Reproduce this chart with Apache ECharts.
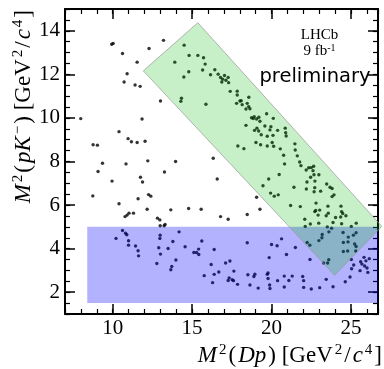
<!DOCTYPE html>
<html>
<head>
<meta charset="utf-8">
<script src="https://cdn.jsdelivr.net/npm/echarts@6/dist/echarts.min.js"></script>
<style>html,body{margin:0;padding:0;background:#fff;}#c{width:384px;height:369px;}</style>
</head>
<body>
<div id="c"></div>
<script>
// ---- data ----
const xRange = [7, 26.7];
const yRange = [1, 15];
const xMajorTicks = [10, 15, 20, 25];
const yMajorTicks = [2, 4, 6, 8, 10, 12, 14];
// blue region: M2(pK) < 5 band
const blueBand = [[8.4, 1.5], [26.7, 1.5], [26.7, 5.0], [8.4, 5.0]];
// green rotated band corners
const greenBand = [[11.93, 12.16], [15.36, 14.37], [26.94, 5.02], [23.97, 2.78]];
// candidates [M2(Dp), M2(pK-)]
const dalitzPoints = [
[9.94,13.38],[10.03,13.42],[10.62,12.96],[11.54,12.56],[12.29,13.19],[13.20,13.56],[10.91,12.03],[10.72,11.65],
[11.41,11.51],[11.73,11.45],[13.01,10.78],[7.99,9.97],[11.85,9.95],[10.40,9.37],[10.97,9.05],[11.18,8.91],
[11.54,8.87],[12.04,8.93],[8.77,8.77],[9.04,8.75],[9.36,7.92],[10.84,7.89],[12.21,8.03],[13.96,8.00],
[9.08,7.54],[13.26,7.52],[11.75,7.28],[11.88,7.06],[9.96,7.10],[8.75,6.42],[10.40,6.06],[11.60,6.29],
[12.26,6.48],[12.40,6.41],[12.17,5.81],[13.66,5.78],[14.78,5.84],[10.78,5.47],[10.91,5.54],[11.03,5.63],
[11.31,5.63],[12.82,5.40],[12.97,5.32],[12.99,5.05],[13.24,5.05],[13.30,5.11],[15.57,5.81],[16.79,5.47],
[17.27,5.35],[18.47,5.57],[19.27,5.81],[19.06,6.36],[19.46,6.89],[16.33,8.15],[16.58,7.20],[15.87,10.63],
[18.39,9.66],[17.88,8.71],[18.26,8.59],[14.33,10.90],[14.29,10.76],[14.48,11.88],[14.79,12.12],[13.91,12.56],
[14.50,13.34],[14.81,12.87],[15.36,12.87],[15.72,12.76],[15.66,12.20],[15.82,12.47],[16.16,11.98],[16.43,12.21],
[16.64,12.01],[16.79,11.86],[16.92,11.78],[16.87,11.65],[17.04,11.95],[17.13,11.73],[17.27,11.86],[17.30,11.62],
[17.40,11.22],[17.84,11.23],[17.84,11.05],[18.01,10.78],[17.80,10.67],[18.09,10.79],[18.15,10.61],[18.47,10.67],
[18.57,10.95],[18.56,10.52],[18.64,10.42],[18.39,10.41],[18.74,10.01],[18.91,10.06],[18.85,9.97],[19.06,9.95],
[19.20,10.03],[19.69,10.19],[20.11,9.98],[19.27,9.85],[19.90,9.45],[19.96,9.60],[19.58,9.63],[19.08,9.53],
[18.93,9.43],[19.19,9.40],[19.35,9.23],[19.73,9.16],[20.09,9.20],[20.38,9.43],[20.86,9.53],[20.92,9.17],
[20.89,9.32],[19.02,8.87],[19.31,8.77],[19.73,8.71],[20.04,8.87],[20.13,8.70],[20.55,8.58],[20.76,8.29],
[20.82,7.89],[21.47,8.81],[21.49,8.53],[21.62,8.26],[21.77,7.98],[21.85,7.81],[22.18,7.61],[22.34,7.71],
[22.50,7.72],[22.65,7.78],[22.61,7.58],[22.46,7.28],[22.67,7.39],[22.98,7.39],[22.73,7.10],[22.23,7.06],
[20.48,7.40],[23.47,6.97],[23.68,6.82],[23.81,6.76],[19.82,7.20],[19.94,6.55],[20.17,6.41],[20.42,6.47],
[21.41,6.82],[21.20,5.98],[21.81,5.93],[22.19,6.74],[22.72,6.80],[22.68,6.61],[23.93,6.47],[23.81,6.39],
[22.80,6.09],[22.78,5.75],[22.72,5.70],[23.03,5.77],[22.93,5.54],[23.55,5.95],[23.57,5.63],[23.44,5.51],
[24.37,5.95],[24.41,5.70],[24.48,5.61],[24.35,5.45],[24.41,5.14],[23.87,5.20],[22.44,5.13],[22.09,5.35],
[22.97,5.17],[25.33,5.17],[23.09,6.64],[24.68,5.51],[24.03,5.43],[25.02,5.02],[22.12,5.02],[23.51,5.00],
[23.78,4.94],[25.32,4.73],
[10.62,4.83],[10.81,4.71],[10.89,4.64],[10.21,4.47],[11.00,4.36],[11.00,4.16],[11.44,4.12],[11.60,3.90],
[11.63,3.67],[12.99,4.62],[12.97,4.47],[12.90,4.04],[13.01,3.75],[14.18,4.77],[13.79,4.33],[13.49,4.01],
[14.56,4.09],[12.78,3.32],[13.98,3.48],[13.72,3.18],[13.66,3.03],[15.11,3.82],[15.28,3.82],[15.41,3.98],
[15.42,3.73],[15.61,4.35],[16.39,3.96],[18.47,4.27],[20.00,4.19],[20.35,4.13],[20.63,4.45],[20.94,3.73],
[19.85,3.59],[22.42,3.50],[23.28,3.34],[23.60,3.49],[23.53,3.34],[25.02,3.50],[25.61,3.40],[25.69,3.29],
[25.86,3.20],[26.15,3.54],[25.94,3.44],[25.17,3.25],[25.04,3.08],[25.57,2.99],[24.94,2.70],[24.64,2.48],
[26.01,3.11],[16.20,3.27],[15.76,2.76],[16.39,2.82],[16.68,2.93],[17.11,3.34],[17.38,3.43],[17.63,2.97],
[17.33,2.66],[17.52,2.57],[17.27,2.54],[17.61,2.53],[16.29,2.44],[17.86,2.36],[18.51,2.80],[18.95,2.83],
[18.89,2.72],[18.64,2.33],[19.16,2.19],[19.73,2.82],[19.78,2.88],[19.78,2.63],[19.88,2.33],[19.90,2.17],
[20.38,2.53],[20.80,2.74],[21.09,2.54],[20.80,2.24],[21.30,2.74],[21.96,2.72],[22.02,2.53],[22.02,2.22],
[22.50,2.15],[23.03,2.21],[23.44,2.59],[23.87,2.25],[24.50,4.74],[25.15,4.62],[24.83,4.53],[24.52,4.28],
[24.81,4.31],[25.23,4.21],[25.32,4.10],[24.52,3.87],[24.79,3.89],[25.30,3.89],[23.17,4.50],[22.98,4.37],
[23.19,4.65],[22.24,4.28],[22.41,4.16],[21.50,4.05],[23.61,4.77],[25.82,3.60],[26.06,2.91]
];

// ---- chart ----
const chart = echarts.init(document.getElementById('c'), null, {renderer: 'canvas'});
const serif = 'Liberation Serif';
const frame = {show: true, onZero: false, lineStyle: {color: '#000', width: 2}};
function majorAxis(pos, ticks, showLabel, range, isY) {
  return {
    type: 'value', position: pos, min: range[0], max: range[1],
    axisLine: frame,
    axisTick: {show: true, inside: true, length: 10, customValues: ticks, lineStyle: {color: '#000', width: 1.5}},
    axisLabel: {show: showLabel, customValues: ticks, margin: isY ? 5 : 4, color: '#000', fontFamily: serif, fontSize: 21},
    splitLine: {show: false}
  };
}
function minorAxis(pos, interval, range) {
  return {
    type: 'value', position: pos, min: range[0], max: range[1], interval: interval,
    axisLine: {show: false},
    axisTick: {show: true, inside: true, length: 5, lineStyle: {color: '#000', width: 1.2}},
    axisLabel: {show: false},
    splitLine: {show: false}
  };
}
function polygonSeries(corners, fill, stroke, z) {
  return {
    type: 'custom', xAxisIndex: 0, yAxisIndex: 0, silent: true, z: z,
    data: [corners[0]],
    renderItem: function (params, api) {
      return {
        type: 'polygon',
        shape: {points: corners.map(function (c) { return api.coord(c); })},
        style: {fill: fill, stroke: stroke, lineWidth: stroke ? 1 : 0}
      };
    }
  };
}
const pad = [0, 1, 0, 1];
const supStyle = {fontFamily: serif, fontSize: 15, verticalAlign: 'top', lineHeight: 26, padding: pad};
const titleRich = {
  i: {fontFamily: serif, fontStyle: 'italic', fontSize: 23, lineHeight: 26, padding: pad},
  n: {fontFamily: serif, fontSize: 23, lineHeight: 26, padding: pad},
  sup: supStyle
};

chart.setOption({
  animation: false,
  backgroundColor: '#fff',
  grid: {left: 65, right: 6, top: 9, bottom: 55, containLabel: false},
  xAxis: [
    majorAxis('bottom', xMajorTicks, true, xRange, false),
    minorAxis('bottom', 1, xRange),
    majorAxis('top', xMajorTicks, false, xRange, false),
    minorAxis('top', 1, xRange)
  ],
  yAxis: [
    majorAxis('left', yMajorTicks, true, yRange, true),
    minorAxis('left', 0.5, yRange),
    majorAxis('right', yMajorTicks, false, yRange, true),
    minorAxis('right', 0.5, yRange)
  ],
  series: [
    {type: 'scatter', xAxisIndex: 0, yAxisIndex: 0, data: dalitzPoints, symbol: 'circle', symbolSize: 3.4,
     itemStyle: {color: '#000'}, z: 2, silent: true},
    polygonSeries(blueBand, 'rgba(0,0,255,0.3)', null, 3),
    polygonSeries(greenBand, 'rgba(0,185,0,0.216)', 'rgba(150,150,150,0.7)', 4)
  ],
  graphic: [
    {type: 'text', x: 383, y: 356, z: 10,
     style: {text: '{i|M}{sup|2}{n|(}{i|Dp}{n|) [GeV}{sup|2}{n|/}{i|c}{sup|4}{n|]}', rich: titleRich,
             align: 'right', verticalAlign: 'middle', fill: '#000'}},
    {type: 'text', x: 24, y: 9, rotation: Math.PI / 2, z: 10,
     style: {text: '{i|M}{sup|2}{n|(}{i|pK}{sup|−}{n|) [GeV}{sup|2}{n|/}{i|c}{sup|4}{n|]}', rich: titleRich,
             align: 'right', verticalAlign: 'middle', fill: '#000'}},
    {type: 'text', x: 319.5, y: 35, z: 10,
     style: {text: 'LHCb', fontFamily: serif, fontSize: 15, align: 'center', verticalAlign: 'middle', fill: '#000'}},
    {type: 'text', x: 319.5, y: 51.5, z: 10,
     style: {text: '{n|9 fb}{s|-1}', rich: {n: {fontFamily: serif, fontSize: 15, lineHeight: 17}, s: {fontFamily: serif, fontSize: 10, lineHeight: 17, verticalAlign: 'top'}},
             align: 'center', verticalAlign: 'middle', fill: '#000'}},
    {type: 'text', x: 315, y: 77, z: 10,
     style: {text: 'preliminary', fontFamily: 'DejaVu Sans', fontSize: 19.5, align: 'center', verticalAlign: 'middle', fill: '#000'}}
  ]
});
</script>
</body>
</html>
